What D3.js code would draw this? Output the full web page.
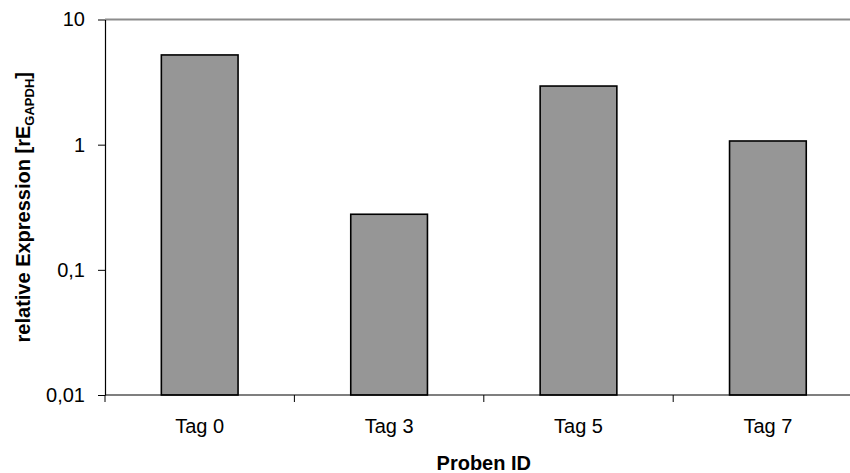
<!DOCTYPE html>
<html>
<head>
<meta charset="utf-8">
<script src="https://cdn.jsdelivr.net/npm/d3@7"></script>
<style>
  html, body { margin: 0; padding: 0; background: #fff; }
  svg { display: block; font-family: "Liberation Sans", Arial, sans-serif; }
</style>
</head>
<body>
<svg id="chart" width="850" height="473"></svg>
<script>
// Relative expression per sampling day (log scale)
const categories = ["Tag 0", "Tag 3", "Tag 5", "Tag 7"];
const values = [5.21, 0.278, 2.94, 1.07];
const yTicks = [0.01, 0.1, 1, 10];
const yTickLabels = ["0,01", "0,1", "1", "10"];

const svg = d3.select("#chart");
// plot area (extends a little past the right edge of the canvas)
const plotLeft = 105, plotTop = 19.5, plotBottom = 395, plotWidth = 757.6;

const x = d3.scaleBand()
  .domain(categories)
  .range([plotLeft, plotLeft + plotWidth])
  .paddingInner(0.595)
  .paddingOuter(0.2975);

const y = d3.scaleLog()
  .domain([0.01, 10])
  .range([plotBottom, plotTop]);

// top border line at the axis maximum
svg.append("line")
  .attr("x1", plotLeft).attr("x2", plotLeft + plotWidth)
  .attr("y1", y(10)).attr("y2", y(10))
  .attr("stroke", "#8c8c8c").attr("stroke-width", 2);

// bars
svg.append("g").selectAll("rect")
  .data(values)
  .join("rect")
  .attr("x", (d, i) => x(categories[i]))
  .attr("width", x.bandwidth())
  .attr("y", d => y(d))
  .attr("height", d => y(0.01) - y(d))
  .attr("fill", "#969696")
  .attr("stroke", "#000")
  .attr("stroke-width", 1.6);

// y axis
const yAxis = d3.axisLeft(y)
  .tickValues(yTicks)
  .tickFormat((d, i) => yTickLabels[i])
  .tickSizeInner(7)
  .tickSizeOuter(0)
  .tickPadding(13);
const gy = svg.append("g")
  .attr("transform", `translate(${plotLeft},0)`)
  .call(yAxis);
gy.select(".domain").attr("stroke", "#000").attr("stroke-width", 1.2);
gy.selectAll(".tick line").attr("stroke", "#000").attr("stroke-width", 1);
gy.selectAll(".tick text")
  .attr("font-size", 20)
  .attr("fill", "#000")
  .attr("font-family", "Liberation Sans, Arial, sans-serif");

// x axis: tick marks at category boundaries, labels at category centres
const step = x.step();
const boundaries = d3.range(categories.length + 1).map(i => plotLeft + i * step);
const gx = svg.append("g");
gx.append("line")
  .attr("x1", plotLeft).attr("x2", plotLeft + plotWidth)
  .attr("y1", plotBottom).attr("y2", plotBottom)
  .attr("stroke", "#000").attr("stroke-width", 1.2);
gx.selectAll("line.tk")
  .data(boundaries)
  .join("line")
  .attr("class", "tk")
  .attr("x1", d => d).attr("x2", d => d)
  .attr("y1", plotBottom).attr("y2", plotBottom + 7)
  .attr("stroke", "#000").attr("stroke-width", 1);
gx.selectAll("text")
  .data(categories)
  .join("text")
  .attr("x", d => x(d) + x.bandwidth() / 2)
  .attr("y", 433)
  .attr("text-anchor", "middle")
  .attr("font-size", 20)
  .text(d => d);

// axis titles
svg.append("text")
  .attr("x", plotLeft + plotWidth / 2)
  .attr("y", 470)
  .attr("text-anchor", "middle")
  .attr("font-size", 20)
  .attr("font-weight", "bold")
  .text("Proben ID");

const yt = svg.append("text")
  .attr("transform", `translate(30,${(plotTop + plotBottom) / 2}) rotate(-90)`)
  .attr("text-anchor", "middle")
  .attr("font-size", 20)
  .attr("font-weight", "bold");
yt.append("tspan").text("relative Expression [rE");
yt.append("tspan").attr("font-size", 13).attr("dy", 4).text("GAPDH");
yt.append("tspan").attr("dy", -4).text("]");
</script>
</body>
</html>
